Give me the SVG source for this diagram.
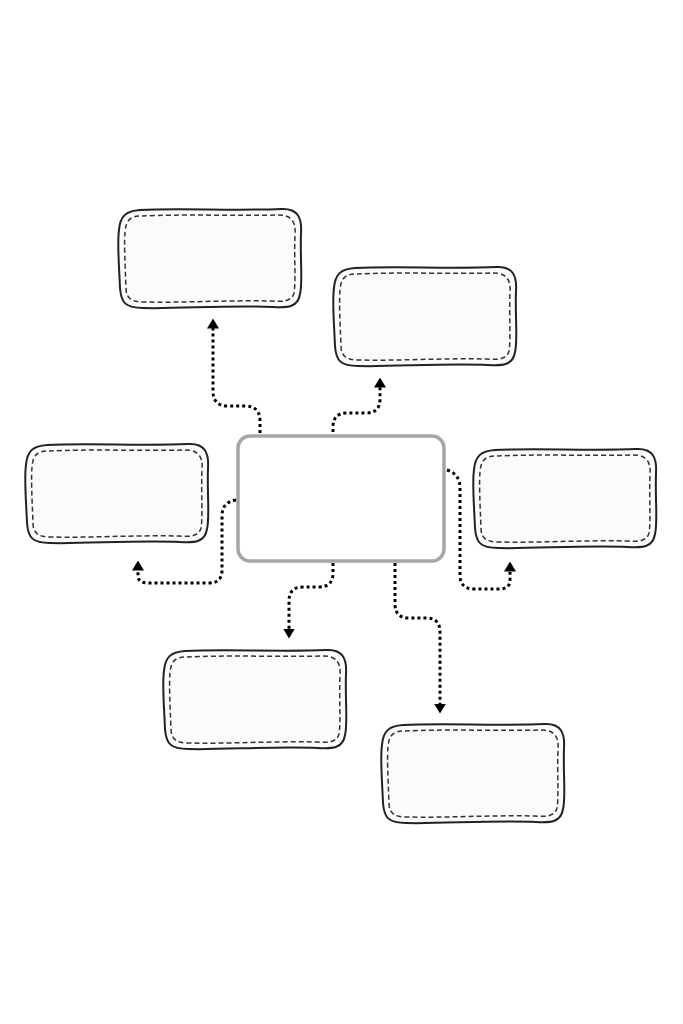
<svg xmlns="http://www.w3.org/2000/svg" width="683" height="1024" viewBox="0 0 683 1024">
<style>
.outer{fill:#fbfbfe;stroke:#222;stroke-width:2;stroke-linejoin:round}
.inner{fill:none;stroke:#333;stroke-width:1.5;stroke-dasharray:5 3}
.conn{fill:none;stroke:#000;stroke-width:3;stroke-dasharray:3 3;marker-end:url(#arr)}
.center{fill:#fff;stroke:#a6a6a6;stroke-width:3.5}
</style>
<defs>
<marker id="arr" viewBox="0 0 10 12" markerWidth="10" markerHeight="12" refX="0.5" refY="6" orient="auto" markerUnits="userSpaceOnUse">
<path d="M0 0 L10 6 L0 12 Z" fill="#000"/>
</marker>
<g id="box">
<path class="outer" d="M22 2 C60 0 120 3 163 1 C180 0 184 10 183 25 C182 50 185 75 182 86 C180 99 170 100 155 99 C110 97 60 101 25 100 C8 100 3 95 2 80 C1 55 -1 35 1 22 C2 8 8 3 22 2 Z"/>
<path class="inner" d="M24 8 C60 6 120 8 160 7 C174 7 178 14 177 27 C176 50 178 74 176 85 C174 93 166 94 154 93 C110 92 60 95 26 94 C13 94 8 90 8 80 C7 55 6 36 7 24 C8 12 12 8 24 8 Z"/>
</g>
</defs>
<rect width="683" height="1024" fill="#fff"/>
<g id="node-top-left"><use href="#box" x="118" y="208"/></g>
<g id="node-top-right"><use href="#box" x="333" y="266"/></g>
<g id="node-left"><use href="#box" x="25" y="443"/></g>
<g id="node-right"><use href="#box" x="473" y="448"/></g>
<g id="node-bottom-left"><use href="#box" x="163" y="649"/></g>
<g id="node-bottom-right"><use href="#box" x="381" y="723"/></g>
<g id="node-center"><rect class="center" x="238" y="436" width="206" height="125" rx="12"/></g>
<g id="connectors">
<path class="conn" d="M260 433 V421 Q260 406 245 406 H228 Q213 406 213 391 V328"/>
<path class="conn" d="M333 432 V427 Q333 413 347 413 H366 Q380 413 380 399 V387"/>
<path class="conn" d="M236 500 Q222 502 222 516 V570 Q222 583 209 583 H149 Q138 583 138 576 V570"/>
<path class="conn" d="M447 470 Q460 474 460 488 V575 Q460 589 474 589 H499 Q510 589 510 580 V571"/>
<path class="conn" d="M333 563 V573 Q333 587 319 587 H303 Q289 587 289 601 V629"/>
<path class="conn" d="M395 563 V604 Q395 618 409 618 H426 Q440 618 440 632 V704"/>
</g>
</svg>
